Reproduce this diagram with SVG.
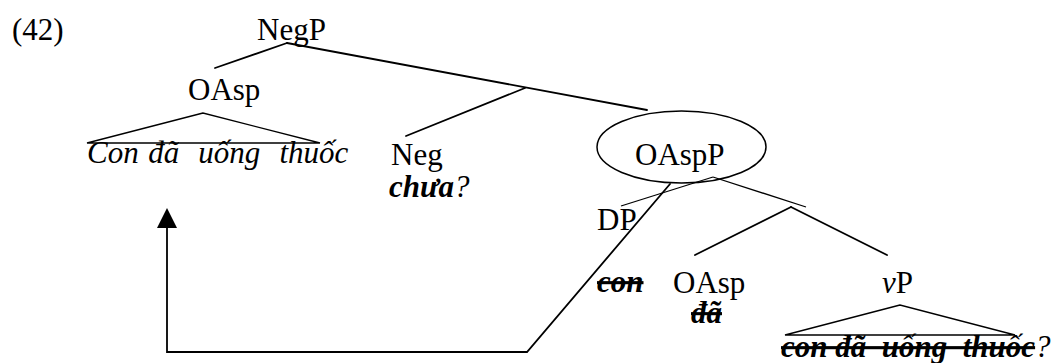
<svg xmlns="http://www.w3.org/2000/svg" width="1062" height="363" viewBox="0 0 1062 363">
  <style>
    text { font-family: "Liberation Serif", "Times New Roman", serif; font-size: 31px; fill: #000; }
    .it { font-style: italic; }
    .bi { font-style: italic; font-weight: bold; }
    .strike { text-decoration: line-through; }
    .br { stroke: #000; stroke-width: 1.8; fill: none; stroke-linecap: round; }
    .tri { stroke: #000; stroke-width: 1.3; fill: none; }
  </style>
  <defs>
    <marker id="arrow" viewBox="0 0 20 20" refX="0" refY="10" markerWidth="20" markerHeight="20" markerUnits="userSpaceOnUse" orient="auto">
      <path d="M0,0 L20,10 L0,20 z" fill="#000"/>
    </marker>
  </defs>
  <rect width="1062" height="363" fill="#fff"/>

  <g id="connectors">
    <line class="br" x1="287" y1="43" x2="215" y2="68"/>
    <line class="br" x1="287" y1="43" x2="647" y2="110"/>
    <line class="br" x1="525" y1="88" x2="406" y2="136"/>
    <path class="tri" d="M203,113 L87,143 L320,143 Z"/>
    <line class="tri" x1="713" y1="177" x2="621" y2="206"/>
    <line class="tri" x1="713" y1="177" x2="806" y2="207"/>
    <line class="br" x1="791" y1="207" x2="695" y2="255"/>
    <line class="br" x1="791" y1="207" x2="887" y2="255"/>
    <path class="tri" d="M900,305 L785,335 L1015,335 Z"/>
    <path class="br" d="M670,184 L527,352 L167,352 L167,228" stroke-linejoin="miter" marker-end="url(#arrow)"/>
  </g>

  <g id="label-42"><text x="12" y="40">(42)</text></g>
  <g id="node-NegP"><text x="257" y="40">NegP</text></g>
  <g id="node-OAsp-top"><text x="188" y="100">OAsp</text></g>
  <g id="node-sentence-top"><text x="87" y="163" class="it" word-spacing="1.8" xml:space="preserve">Con đã  uống  thuốc</text></g>
  <g id="node-Neg">
    <text x="391" y="165">Neg</text>
    <text x="389" y="197" class="it"><tspan class="bi">chưa</tspan>?</text>
  </g>
  <g id="node-OAspP">
    <ellipse cx="681.5" cy="147" rx="84.5" ry="36" fill="none" stroke="#000" stroke-width="1.5"/>
    <text x="635" y="165">OAspP</text>
  </g>
  <g id="node-DP">
    <text x="597" y="230">DP</text>
    <text x="597" y="292" class="bi strike">con</text>
  </g>
  <g id="node-OAsp-low">
    <text x="673" y="293">OAsp</text>
    <text x="691" y="323" class="bi strike">đã</text>
  </g>
  <g id="node-vP">
    <text x="882" y="293"><tspan class="it">v</tspan>P</text>
  </g>
  <g id="node-sentence-low">
    <text x="781" y="357" xml:space="preserve"><tspan class="bi strike">con đã  uống  thuốc</tspan><tspan class="it">?</tspan></text>
  </g>
</svg>
